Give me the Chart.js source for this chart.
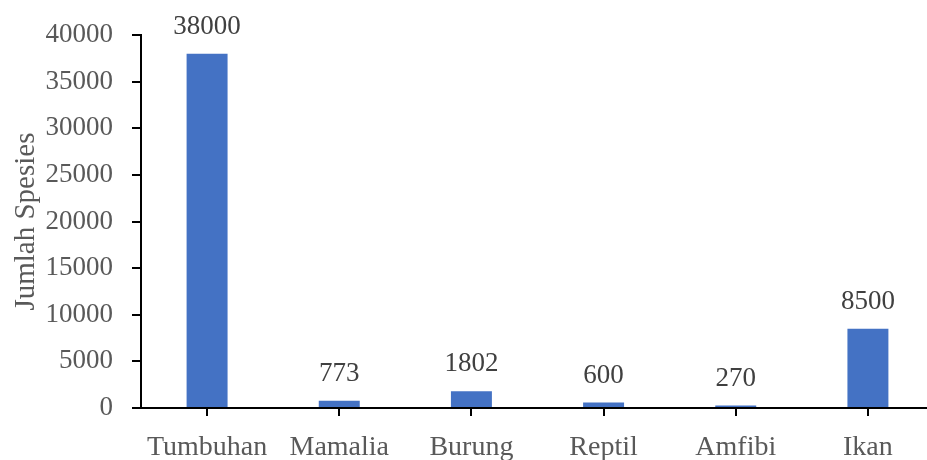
<!DOCTYPE html>
<html>
<head>
<meta charset="utf-8">
<script src="https://cdn.jsdelivr.net/npm/chart.js@4"></script>
<style>
  html, body { margin: 0; padding: 0; background: #fff; overflow: hidden; }
  #wrap { width: 934px; height: 460px; }
</style>
</head>
<body>
<div id="wrap"><canvas id="chart" width="934" height="460"></canvas></div>
<script>
// ---------- Data ----------
const categories = ['Tumbuhan', 'Mamalia', 'Burung', 'Reptil', 'Amfibi', 'Ikan'];
const speciesCount = [38000, 773, 1802, 600, 270, 8500];
const yTicks = [0, 5000, 10000, 15000, 20000, 25000, 30000, 35000, 40000];

const FONT = "'Liberation Serif', 'DejaVu Serif', serif";
const labelGrey = '#595959';

// draws the value above every bar
const valueLabels = {
  id: 'valueLabels',
  afterDatasetsDraw(chart) {
    const ctx = chart.ctx;
    const meta = chart.getDatasetMeta(0);
    ctx.save();
    ctx.font = `27px ${FONT}`;
    ctx.fillStyle = '#404040';
    ctx.textAlign = 'center';
    ctx.textBaseline = 'middle';
    meta.data.forEach((bar, i) => {
      ctx.fillText(String(speciesCount[i]), bar.x, bar.y - 27);
    });
    ctx.restore();
  }
};

new Chart(document.getElementById('chart'), {
  type: 'bar',
  data: {
    labels: categories,
    datasets: [{
      data: speciesCount,
      backgroundColor: '#4472C4',
      barPercentage: 0.62,
      categoryPercentage: 0.5
    }]
  },
  options: {
    responsive: false,
    animation: false,
    layout: { padding: { top: 32, right: 0, left: 0, bottom: 0 } },
    plugins: { legend: { display: false }, tooltip: { enabled: false } },
    scales: {
      x: {
        grid: { display: true, drawOnChartArea: false, offset: false, tickLength: 8, color: '#000', lineWidth: 2 },
        border: { display: true, color: '#000', width: 2 },
        ticks: { color: labelGrey, font: { family: FONT, size: 28 }, padding: 15, maxRotation: 0, autoSkip: false },
        afterFit(scale) { scale.height = 52; }
      },
      y: {
        min: 0,
        max: 40000,
        afterBuildTicks(scale) { scale.ticks = yTicks.map(v => ({ value: v })); },
        grid: { display: true, drawOnChartArea: false, tickLength: 9, color: '#000', lineWidth: 2 },
        border: { display: true, color: '#000', width: 2 },
        ticks: { color: labelGrey, font: { family: FONT, size: 27 }, padding: 19, callback: v => String(v) },
        title: {
          display: true,
          text: 'Jumlah Spesies',
          color: labelGrey,
          font: { family: FONT, size: 29 },
          padding: { top: 9, bottom: 0 }
        },
        afterFit(scale) { scale.width = 141; }
      }
    }
  },
  plugins: [valueLabels]
});
</script>
</body>
</html>
